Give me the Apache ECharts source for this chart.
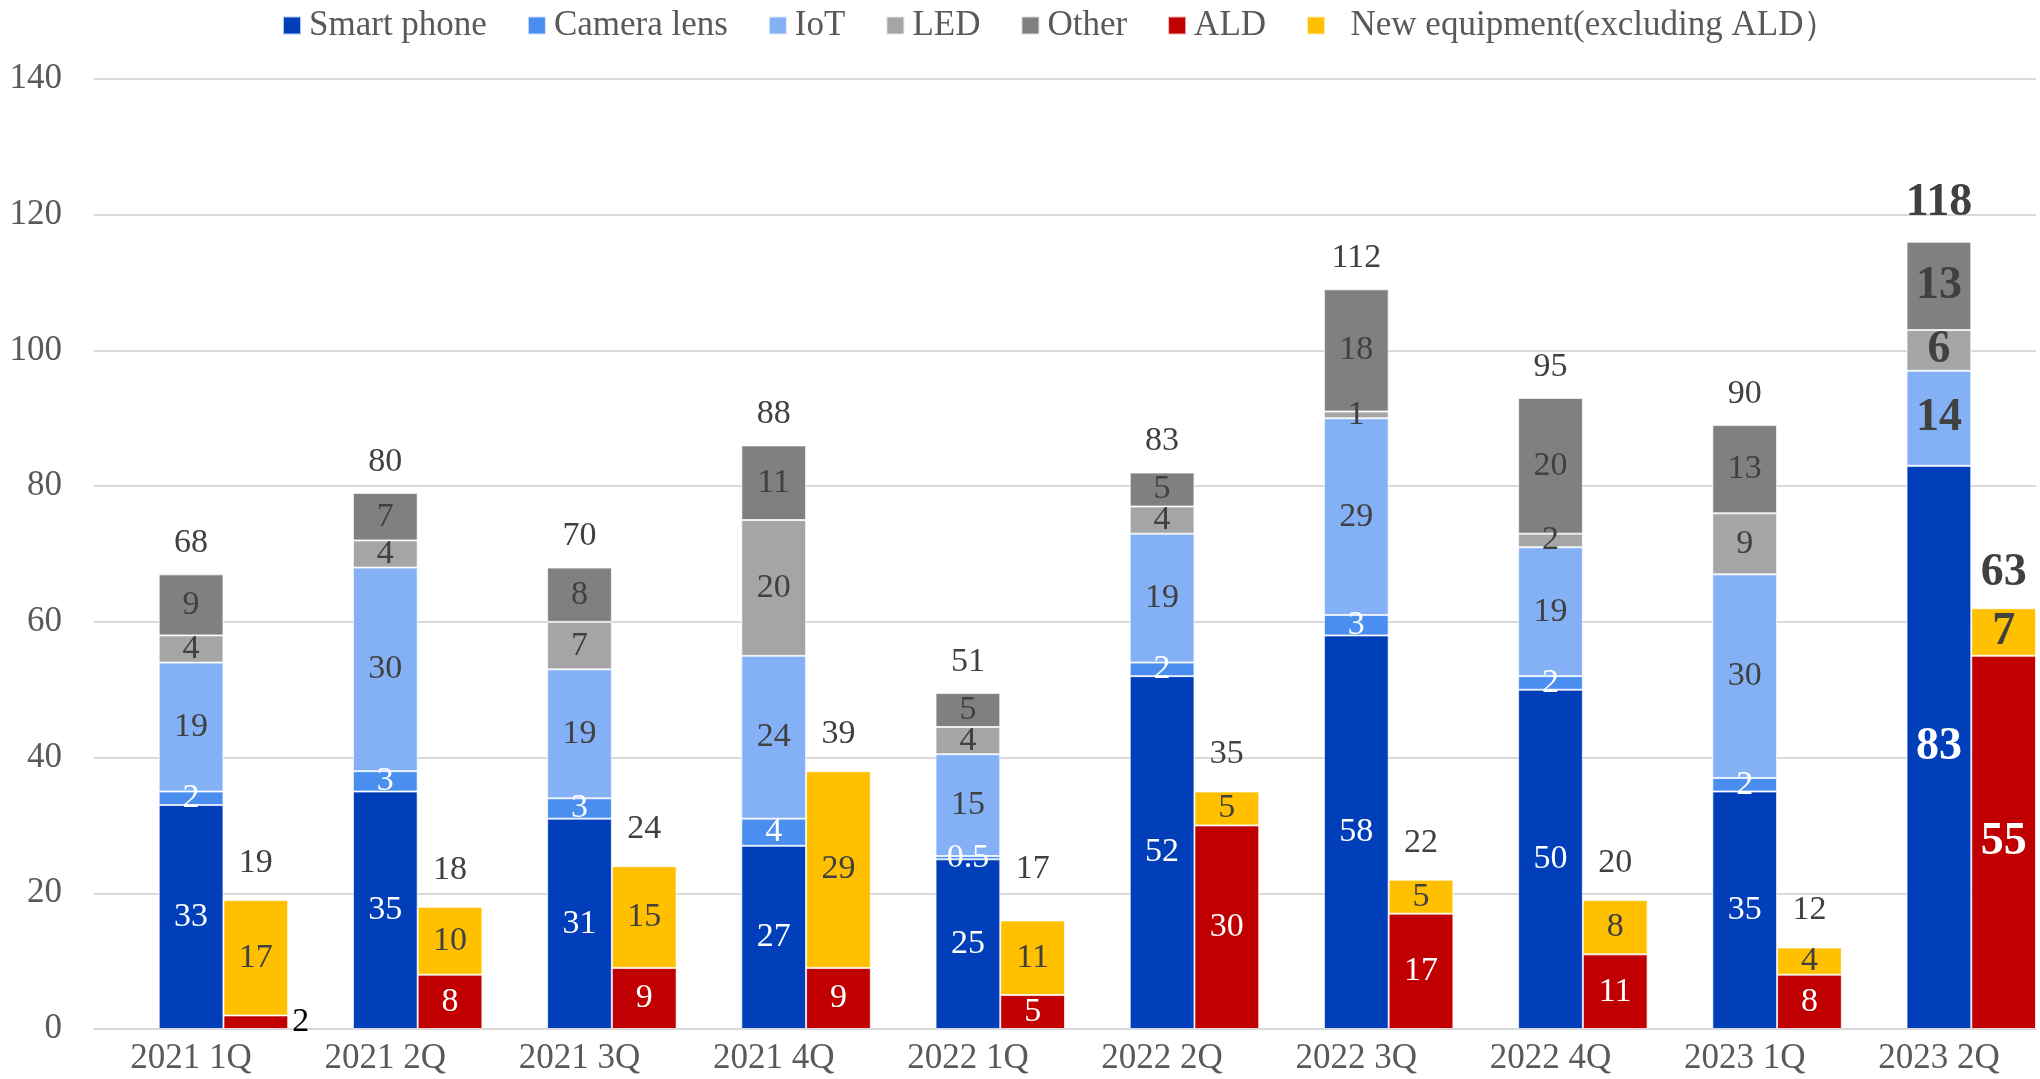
<!DOCTYPE html>
<html>
<head>
<meta charset="utf-8">
<script src="https://cdn.jsdelivr.net/npm/echarts@6/dist/echarts.min.js"></script>
<style>
html,body{margin:0;padding:0;background:#fff;}
#chart{width:2040px;height:1079px;}
</style>
</head>
<body>
<div id="chart"></div>
<script>
const categories = ['2021 1Q','2021 2Q','2021 3Q','2021 4Q','2022 1Q','2022 2Q','2022 3Q','2022 4Q','2023 1Q','2023 2Q'];
const smartPhone = [33,35,31,27,25,52,58,50,35,83];
const cameraLens = [2,3,3,4,0.5,2,3,2,2,0];
const iot        = [19,30,19,24,15,19,29,19,30,14];
const led        = [4,4,7,20,4,4,1,2,9,6];
const other      = [9,7,8,11,5,5,18,20,13,13];
const ald        = [2,8,9,9,5,30,17,11,8,55];
const newEquip   = [17,10,15,29,11,5,5,8,4,7];
const totalsA    = [68,80,70,88,51,83,112,95,90,118];
const totalsB    = [19,18,24,39,17,35,22,20,12,63];
const yTicks     = [0,20,40,60,80,100,120,140];

const FONT = "'Times New Roman','Liberation Serif',serif";
const DARK = '#404040';
const LAST = categories.length - 1;

function items(values, labelColor, extra) {
  return values.map((v, i) => {
    const it = { value: v };
    if (i === LAST) {
      it.label = { fontSize: 46, fontWeight: 'bold', color: labelColor };
    }
    if (extra && extra[i]) Object.assign(it, extra[i]);
    return it;
  });
}

function seg(name, stack, color, values, labelColor, extra) {
  return {
    name, type: 'bar', stack,
    data: items(values, labelColor, extra),
    itemStyle: { color, borderColor: 'rgba(255,255,255,0.7)', borderWidth: 1 },
    label: {
      show: true, position: 'inside', color: labelColor,
      fontFamily: FONT, fontSize: 34,
      formatter: p => (p.value ? String(p.value) : '')
    },
    emphasis: { disabled: true },
    barGap: '0%', barCategoryGap: '0%'
  };
}

function totalSeries(stack, totals, dist, lastDist, distOverrides) {
  return {
    name: 'total' + stack, type: 'bar', stack,
    data: totals.map((t, i) => {
      const it = { value: 0 };
      if (i === LAST) it.label = { fontSize: 46, fontWeight: 'bold', distance: lastDist };
      else if (distOverrides && distOverrides[i] != null) it.label = { distance: distOverrides[i] };
      return it;
    }),
    itemStyle: { color: 'transparent', borderWidth: 0 },
    label: {
      show: true, position: 'top', distance: dist, color: DARK,
      fontFamily: FONT, fontSize: 34,
      formatter: p => String(totals[p.dataIndex])
    },
    emphasis: { disabled: true },
    barGap: '0%', barCategoryGap: '0%'
  };
}

const aldExtra = {};
aldExtra[0] = { label: { position: 'right', color: '#000', distance: 4 } };

const option = {
  backgroundColor: '#fff',
  animation: false,
  textStyle: { fontFamily: FONT },
  legend: {
    top: 3, left: 277,
    data: ['Smart phone','Camera lens','IoT','LED','Other','ALD','New equipment(excluding ALD）'],
    formatter: n => (n.indexOf('New') === 0 ? '  ' + n : n),
    icon: 'rect', itemWidth: 18, itemHeight: 18, itemGap: 40,
    textStyle: { fontFamily: FONT, fontSize: 35, color: '#595959', padding: [0, 0, 0, 3] }
  },
  grid: { left: 94, right: 4, top: 79, bottom: 50, containLabel: false },
  xAxis: {
    type: 'category', data: categories,
    axisLine: { lineStyle: { color: '#d9d9d9', width: 2 } },
    axisTick: { show: false },
    axisLabel: { fontFamily: FONT, fontSize: 35, color: '#595959', margin: 12, interval: 0 }
  },
  yAxis: {
    type: 'value', min: yTicks[0], max: yTicks[yTicks.length - 1], interval: yTicks[1] - yTicks[0],
    axisLine: { show: false }, axisTick: { show: false },
    splitLine: { lineStyle: { color: '#d9d9d9', width: 2 } },
    axisLabel: { fontFamily: FONT, fontSize: 35, color: '#595959', margin: 32 }
  },
  series: [
    { name: 'pad', type: 'bar', stack: 'P', data: categories.map(() => 0),
      itemStyle: { color: 'transparent' }, label: { show: false }, barGap: '0%', barCategoryGap: '0%' },
    seg('Smart phone', 'A', '#003EBA', smartPhone, '#ffffff'),
    seg('Camera lens', 'A', '#4A8EEF', cameraLens, '#ffffff'),
    seg('IoT', 'A', '#84B1F5', iot, DARK),
    seg('LED', 'A', '#A5A5A5', led, DARK),
    seg('Other', 'A', '#808080', other, DARK),
    totalSeries('A', totalsA, 14, 16),
    seg('ALD', 'B', '#C00000', ald, '#ffffff', aldExtra),
    seg('New equipment(excluding ALD）', 'B', '#FFC000', newEquip, DARK),
    totalSeries('B', totalsB, 20, 12, { 4: 34 })
  ]
};

const chart = echarts.init(document.getElementById('chart'), null, { renderer: 'canvas' });
chart.setOption(option);
</script>
</body>
</html>
